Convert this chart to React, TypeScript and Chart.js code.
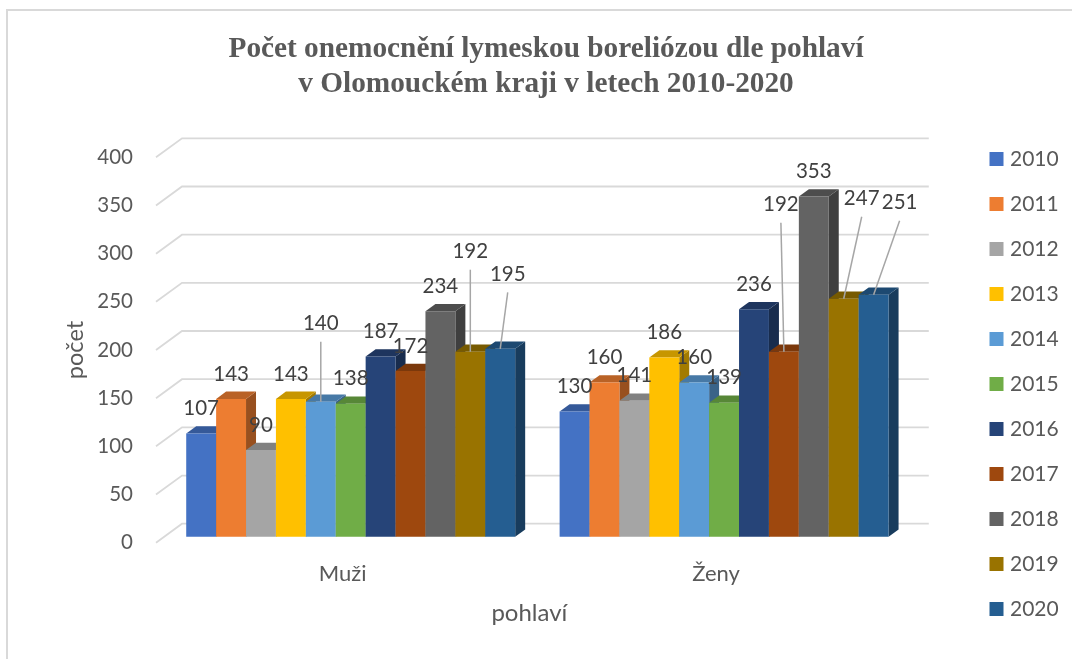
import React, { useEffect, useRef } from "react";
import { Chart, registerables } from "chart.js";

Chart.register(...registerables);

const categories = ["Muži", "Ženy"];
const years = ["2010", "2011", "2012", "2013", "2014", "2015", "2016", "2017", "2018", "2019", "2020"];
const v2010 = [107, 130];
const v2011 = [143, 160];
const v2012 = [90, 141];
const v2013 = [143, 186];
const v2014 = [140, 160];
const v2015 = [138, 139];
const v2016 = [187, 236];
const v2017 = [172, 192];
const v2018 = [234, 353];
const v2019 = [192, 247];
const v2020 = [195, 251];
const seriesValues = [v2010, v2011, v2012, v2013, v2014, v2015, v2016, v2017, v2018, v2019, v2020];
const colors = ["#4472C4", "#ED7D31", "#A5A5A5", "#FFC000", "#5B9BD5", "#70AD47", "#264478", "#9E480E", "#636363", "#997300", "#255E91"];

const TITLE = ["Počet onemocnění lymeskou boreliózou dle pohlaví", "v Olomouckém kraji v letech 2010-2020"];
const FONT = "Lato";
const TEXT = "#595959";
const LABEL = "#404040";

// 3D look
const WALL = { dx: 26, dy: -19 };
const BAR_SHIFT = { dx: 8, dy: -6 };
const BAR_DEPTH = { dx: 10, dy: -7.3 };

// displaced data labels with leader lines: "group:dataset" -> [dx, dy] from bar top centre
const leaderLabels: Record<string, [number, number]> = {
  "0:4": [0, -78],
  "0:9": [0, -100],
  "0:10": [7.5, -74.5],
  "1:7": [-3, -147],
  "1:9": [18, -100],
  "1:10": [26, -92],
};

function shade(hex: string, f: number) {
  const n = parseInt(hex.slice(1), 16);
  const c = [(n >> 16) & 255, (n >> 8) & 255, n & 255].map((v) => Math.round(v * f));
  return `rgb(${c[0]},${c[1]},${c[2]})`;
}

function poly(ctx: CanvasRenderingContext2D, pts: number[][], fill: string) {
  ctx.beginPath();
  pts.forEach((p, i) => (i ? ctx.lineTo(p[0], p[1]) : ctx.moveTo(p[0], p[1])));
  ctx.closePath();
  ctx.fillStyle = fill;
  ctx.fill();
}

const bars3d = {
  id: "bars3d",
  afterLayout(chart: any) {
    const lg = chart.legend;
    const w = lg.right - lg.left;
    lg.left = 969.5;
    lg.right = 969.5 + w;
    lg.top = 124.5;
    lg.bottom = 659;
    chart.titleBlock.left = 20;
    chart.titleBlock.right = 1072;
  },
  beforeDatasetsDraw(chart: any) {
    const { ctx, chartArea: a, scales } = chart;
    // walls' grid lines
    ctx.save();
    ctx.strokeStyle = "#D9D9D9";
    ctx.lineWidth = 1.8;
    scales.y.ticks.forEach((t: any) => {
      const y = scales.y.getPixelForValue(t.value);
      ctx.beginPath();
      ctx.moveTo(a.left, y);
      ctx.lineTo(a.left + WALL.dx, y + WALL.dy);
      ctx.lineTo(a.right + WALL.dx, y + WALL.dy);
      ctx.stroke();
    });
    ctx.restore();

    // bars, left to right
    ctx.save();
    ctx.translate(BAR_SHIFT.dx, BAR_SHIFT.dy);
    seriesValues.forEach((_, i) => {
      const meta = chart.getDatasetMeta(i);
      const col = colors[i];
      meta.data.forEach((el: any) => {
        const l = el.x - el.width / 2;
        const r = el.x + el.width / 2;
        const t = el.y;
        const b = el.base;
        const { dx, dy } = BAR_DEPTH;
        poly(ctx, [[r, t], [r + dx, t + dy], [r + dx, b + dy], [r, b]], shade(col, 0.64));
        poly(ctx, [[l, t], [l + dx, t + dy], [r + dx, t + dy], [r, t]], shade(col, 0.78));
      });
      meta.controller.draw();
    });
    ctx.restore();

    // data labels
    ctx.save();
    ctx.font = `20.5px ${FONT}`;
    ctx.textAlign = "center";
    ctx.textBaseline = "middle";
    seriesValues.forEach((vals, i) => {
      const meta = chart.getDatasetMeta(i);
      meta.data.forEach((el: any, g: number) => {
        const cx = el.x + BAR_SHIFT.dx;
        const top = el.y + BAR_SHIFT.dy;
        const off = leaderLabels[`${g}:${i}`];
        const lx = off ? cx + off[0] : cx;
        const ly = off ? top + off[1] : top - 25;
        if (off) {
          ctx.strokeStyle = "#A6A6A6";
          ctx.lineWidth = 1.5;
          ctx.beginPath();
          ctx.moveTo(lx, ly + 18);
          ctx.lineTo(cx, top);
          ctx.stroke();
        }
        ctx.fillStyle = LABEL;
        ctx.fillText(String(vals[g]), lx, ly);
      });
    });
    ctx.restore();
    return false;
  },
};

export default function App() {
  const ref = useRef<HTMLCanvasElement>(null);
  useEffect(() => {
    const chart = new Chart(ref.current as HTMLCanvasElement, {
      type: "bar",
      plugins: [bars3d],
      data: {
        labels: categories,
        datasets: years.map((y, i) => ({
          label: y,
          data: seriesValues[i],
          backgroundColor: colors[i],
          borderWidth: 0,
          categoryPercentage: 0.881,
          barPercentage: 1,
        })),
      },
      options: {
        responsive: false,
        animation: false,
        layout: { padding: { left: 61, right: 70, top: 0, bottom: 0 } },
        plugins: {
          tooltip: { enabled: false },
          title: {
            display: true,
            text: TITLE,
            color: TEXT,
            font: { family: "'Liberation Serif'", size: 29.3, weight: "bold", lineHeight: 35 / 29.3 },
            padding: { top: 31.5, bottom: 55.8 },
          },
          legend: {
            position: "right",
            align: "start",
            labels: {
              color: TEXT,
              font: { family: FONT, size: 21, lineHeight: 1.2 },
              boxWidth: 6,
              boxHeight: 6,
              padding: 24,
              generateLabels: (c: any) =>
                c.data.datasets.map((d: any, i: number) => ({
                  text: d.label,
                  fillStyle: colors[i],
                  strokeStyle: colors[i],
                  lineWidth: 8,
                  fontColor: TEXT,
                  datasetIndex: i,
                })),
            },
          },
        },
        scales: {
          x: {
            grid: { display: false, drawTicks: false },
            border: { display: false },
            ticks: { color: TEXT, font: { family: FONT, size: 22 }, padding: 18 },
            title: {
              display: true,
              text: "pohlaví",
              color: TEXT,
              font: { family: FONT, size: 24, lineHeight: 1.2 },
              padding: { top: 0, bottom: 31.6 },
            },
            afterFit: (s: any) => {
              s.height = 116.3;
            },
          },
          y: {
            min: 0,
            max: 400,
            grid: { display: false, drawTicks: false },
            border: { display: false },
            ticks: { stepSize: 50, color: TEXT, font: { family: FONT, size: 20.5 }, padding: 23 },
            title: {
              display: true,
              text: "počet",
              color: TEXT,
              font: { family: FONT, size: 23.5, lineHeight: 1.2 },
              padding: 0,
            },
            afterFit: (s: any) => {
              s.width = 95;
            },
          },
        },
      } as any,
    });
    return () => chart.destroy();
  }, []);

  return (
    <div style={{ position: "fixed", left: 0, top: 0, width: 1072, height: 659, background: "#fff", overflow: "hidden" }}>
      <div style={{ position: "absolute", left: 6, top: 9, right: 0, bottom: 0, borderLeft: "2px solid #D9D9D9", borderTop: "2px solid #D9D9D9" }} />
      <canvas ref={ref} width={1072} height={659} style={{ position: "absolute", left: 0, top: 0, display: "block" }} />
    </div>
  );
}
